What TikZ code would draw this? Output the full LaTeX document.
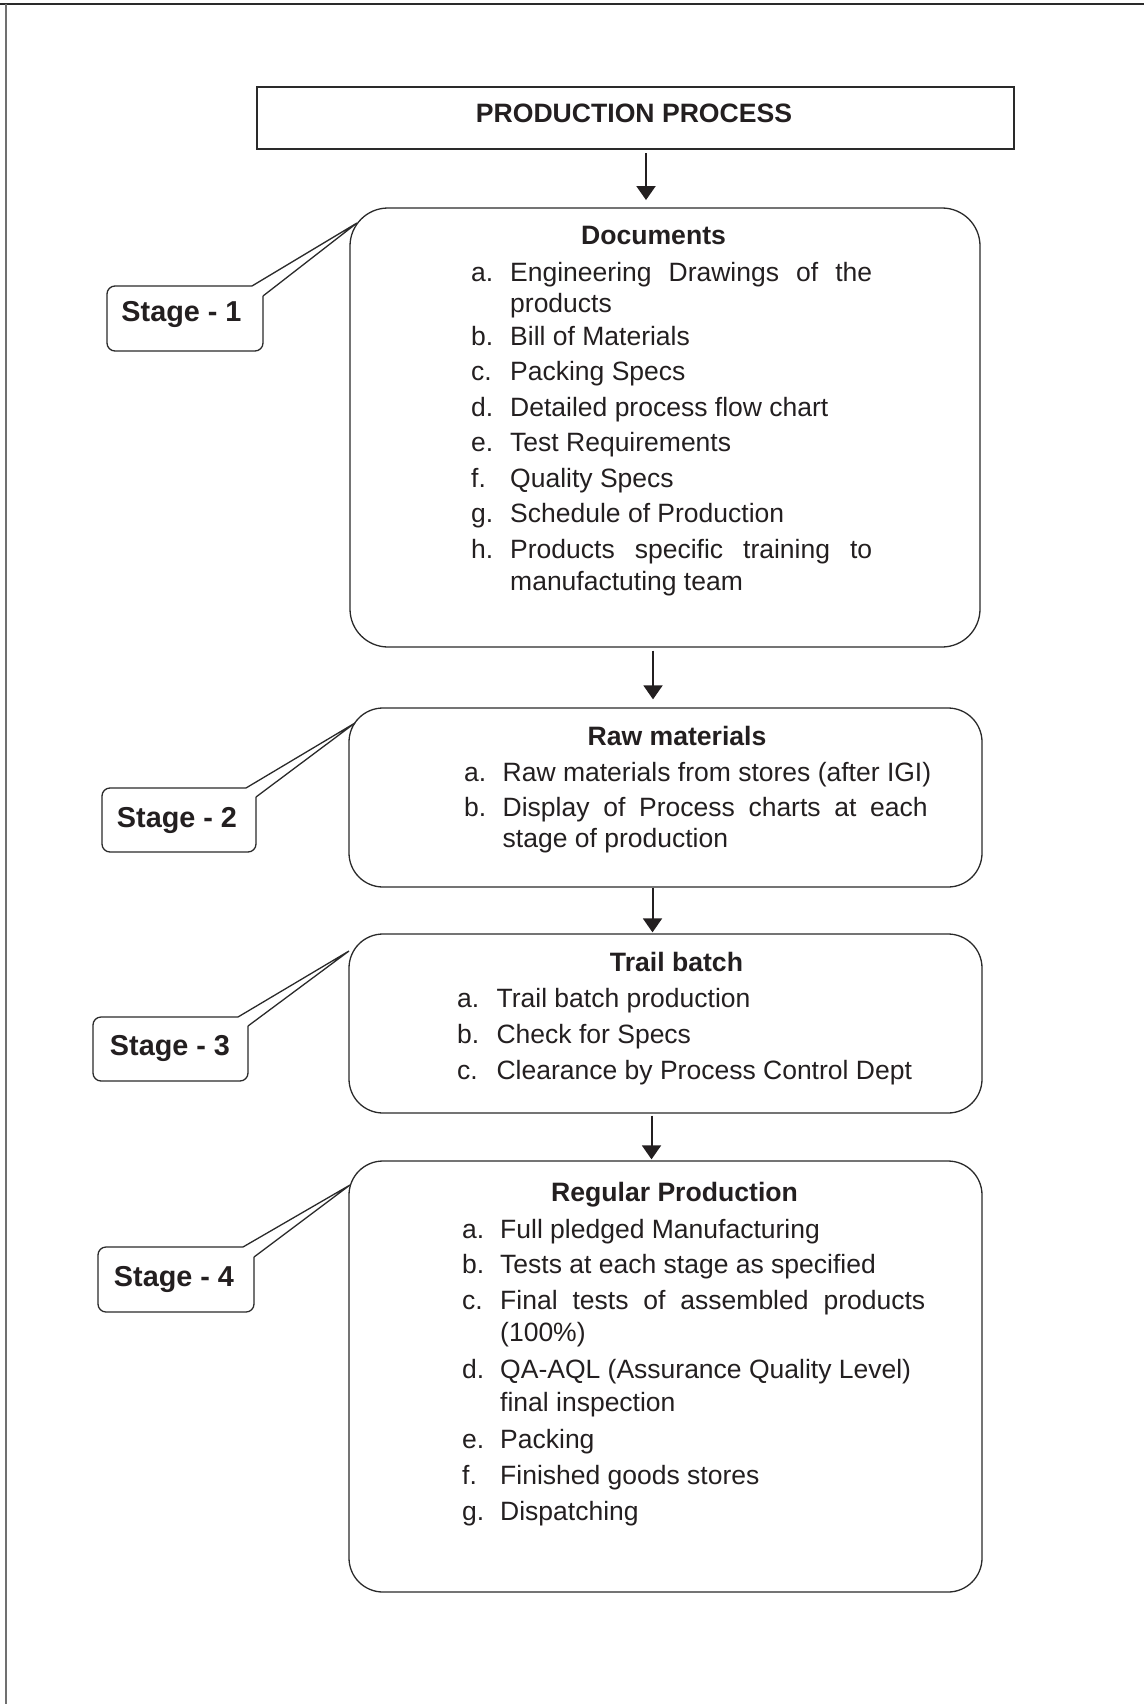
\documentclass[tikz,border=0pt]{standalone}
\usepackage{fontspec}
\setmainfont{Liberation Sans}
\usetikzlibrary{arrows.meta,calc}
\definecolor{ink}{HTML}{231F20}
\definecolor{linec}{HTML}{2A2A2A}
\definecolor{framegray}{HTML}{707070}
\newcommand\pbody{\fontsize{26.5}{31}\selectfont}
\newcommand\ptitle{\fontsize{26.6}{31}\selectfont\bfseries}
\newcommand\pstage{\fontsize{28.8}{33}\selectfont\bfseries}
\begin{document}
\begin{tikzpicture}[x=1pt,y=-1pt,
  bigbox/.style={draw=linec, line width=1.3pt, rounded corners=34pt, inner sep=0pt},
  titlebox/.style={draw=linec, line width=1.3pt, inner sep=0pt},
  arr/.style={draw=ink, line width=2pt, -{Triangle[width=19pt,length=14pt]}},
  callout/.style={draw=linec, line width=1.3pt, rounded corners=8pt},
  pointer/.style={draw=linec, line width=1.3pt},
  txt/.style={anchor=base west, inner sep=0pt, text=ink, font=\pbody},
  head/.style={anchor=base, inner sep=0pt, text=ink, font=\ptitle},
  stagetxt/.style={anchor=base, inner sep=0pt, text=ink, font=\pstage}]
\useasboundingbox (0,0) rectangle (1144,1704);
% page frame (top and left)
\draw[line width=1.3pt, color=linec] (0,4) -- (1144,4);
\draw[line width=2pt, color=framegray] (5.7,4) -- (5.7,1704);

% title
\node[titlebox, minimum width=757pt, minimum height=62pt] (title) at (635.5,118) {};
\node[head] (titletxt) at (634,122.3) {PRODUCTION PROCESS};

% main boxes
\node[bigbox, rounded corners=38pt, minimum width=630pt, minimum height=439pt] (b1) at (665,427.5) {};
\node[bigbox, minimum width=633pt, minimum height=179pt] (b2) at (665.5,797.5) {};
\node[bigbox, minimum width=633pt, minimum height=179pt] (b3) at (665.5,1023.5) {};
\node[bigbox, minimum width=633pt, minimum height=431pt] (b4) at (665.5,1376.5) {};

% arrows
\coordinate (ax1) at (646,0);
\coordinate (ax2) at (653,0);
\coordinate (ax3) at (652.5,0);
\coordinate (ax4) at (651.5,0);
\draw[arr] ([yshift=-3.7pt]title.south -| ax1) -- ([yshift=7.3pt]b1.north -| ax1);
\draw[arr] ([yshift=-3pt]b1.south -| ax2) -- ([yshift=8pt]b2.north -| ax2);
\draw[arr] (b2.south -| ax3) -- ([yshift=1pt]b3.north -| ax3);
\draw[arr] ([yshift=-2pt]b3.south -| ax4) -- ([yshift=1pt]b4.north -| ax4);

% box 1 text
\node[head] (h1) at (653.5,245) {Documents};
\node[txt] (b1al) at (471,281.7) {a.};
\node[txt] (b1a) at (510,281.7) {\makebox[362pt][s]{Engineering Drawings of the}};
\node[txt] (b1a2) at (510,312.7) {products};
\node[txt] (b1bl) at (471,345) {b.};
\node[txt] (b1b) at (510,345) {Bill of Materials};
\node[txt] (b1cl) at (471,380) {c.};
\node[txt] (b1c) at (510,380) {Packing Specs};
\node[txt] (b1dl) at (471,416) {d.};
\node[txt] (b1d) at (510,416) {Detailed process flow chart};
\node[txt] (b1el) at (471,451.7) {e.};
\node[txt] (b1e) at (510,451.7) {Test Requirements};
\node[txt] (b1fl) at (471,487.3) {f.};
\node[txt] (b1f) at (510,487.3) {Quality Specs};
\node[txt] (b1gl) at (471,522.7) {g.};
\node[txt] (b1g) at (510,522.7) {Schedule of Production};
\node[txt] (b1hl) at (471,558.3) {h.};
\node[txt] (b1h) at (510,558.3) {\makebox[362pt][s]{Products specific training to}};
\node[txt] (b1h2) at (510,590) {manufactuting team};

% box 2 text
\node[head] (h2) at (677,745.7) {Raw materials};
\node[txt] (b2al) at (464,781.7) {a.};
\node[txt] (b2a) at (502.5,781.7) {Raw materials from stores (after IGI)};
\node[txt] (b2bl) at (464,816.7) {b.};
\node[txt] (b2b) at (502.5,816.7) {\makebox[425pt][s]{Display of Process charts at each}};
\node[txt] (b2b2) at (502.5,847.7) {stage of production};

% box 3 text
\node[head] (h3) at (676.5,971.7) {Trail batch};
\node[txt] (b3al) at (457,1007.3) {a.};
\node[txt] (b3a) at (496.4,1007.3) {Trail batch production};
\node[txt] (b3bl) at (457,1043.3) {b.};
\node[txt] (b3b) at (496.4,1043.3) {Check for Specs};
\node[txt] (b3cl) at (457,1079) {c.};
\node[txt] (b3c) at (496.4,1079) {Clearance by Process Control Dept};

% box 4 text
\node[head] (h4) at (674.5,1201.7) {Regular Production};
\node[txt] (b4al) at (462,1238.3) {a.};
\node[txt] (b4a) at (500,1238.3) {Full pledged Manufacturing};
\node[txt] (b4bl) at (462,1273.3) {b.};
\node[txt] (b4b) at (500,1273.3) {Tests at each stage as specified};
\node[txt] (b4cl) at (462,1309.3) {c.};
\node[txt] (b4c) at (500,1309.3) {\makebox[425pt][s]{Final tests of assembled products}};
\node[txt] (b4c2) at (500,1341) {(100\%)};
\node[txt] (b4dl) at (462,1378.3) {d.};
\node[txt] (b4d) at (500,1378.3) {QA-AQL (Assurance Quality Level)};
\node[txt] (b4d2) at (500,1411.7) {final inspection};
\node[txt] (b4el) at (462,1448.3) {e.};
\node[txt] (b4e) at (500,1448.3) {Packing};
\node[txt] (b4fl) at (462,1484.3) {f.};
\node[txt] (b4f) at (500,1484.3) {Finished goods stores};
\node[txt] (b4gl) at (462,1520) {g.};
\node[txt] (b4g) at (500,1520) {Dispatching};

% stage callouts
\draw[callout] (252,286) -- (107,286) -- (107,351) -- (263,351) -- (263,296);
\coordinate (tip1) at (357,223);
\draw[pointer] (252,286) -- (tip1) -- (263,296);
\node[stagetxt] (s1) at (181.5,321.7) {Stage - 1};

\draw[callout] (246,788) -- (102,788) -- (102,852) -- (256,852) -- (256,797);
\coordinate (tip2) at (355,723);
\draw[pointer] (246,788) -- (tip2) -- (256,797);
\node[stagetxt] (s2) at (177,827) {Stage - 2};

\draw[callout] (238,1017) -- (93,1017) -- (93,1081) -- (248,1081) -- (248,1026);
\coordinate (tip3) at (349,951);
\draw[pointer] (238,1017) -- (tip3) -- (248,1026);
\node[stagetxt] (s3) at (170,1055) {Stage - 3};

\draw[callout] (243,1247) -- (98,1247) -- (98,1312) -- (254,1312) -- (254,1257);
\coordinate (tip4) at (350,1185);
\draw[pointer] (243,1247) -- (tip4) -- (254,1257);
\node[stagetxt] (s4) at (174,1286) {Stage - 4};
\end{tikzpicture}
\end{document}
